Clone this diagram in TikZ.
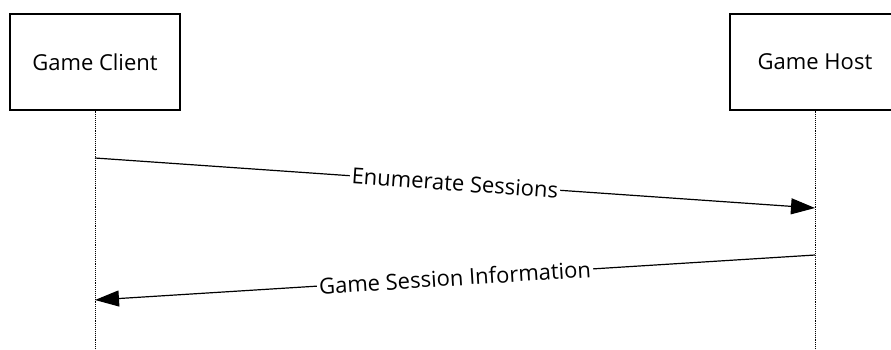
\documentclass[tikz,border=0pt]{standalone}
\usepackage{fontspec}
\setmainfont{Open Sans}
\usetikzlibrary{arrows.meta}

\tikzset{
	actor/.style={draw, line width=1.1pt, minimum width=170pt, minimum height=96pt,
		font=\fontsize{22}{26}\selectfont},
	lifeline/.style={densely dotted, line width=0.9pt},
	msg/.style={line width=1.2pt, -{Triangle[length=24pt,width=16pt]}},
	msglabel/.style={fill=white, sloped, inner sep=2pt, font=\fontsize{22}{26}\selectfont}
}

\begin{document}
\begin{tikzpicture}[x=1pt,y=-1pt]
		\useasboundingbox (0,0) rectangle (891,349);
		\clip (0,0) rectangle (891,349);
		\node[actor] (client) at (95,62) {Game Client};
		\node[actor] (host) at (815,62) {Game Host};
		\coordinate (clientend) at (95,349);
		\coordinate (hostend) at (815,349);
		\draw[lifeline] (client.south) -- (clientend);
		\draw[lifeline] (host.south) -- (hostend);
		% messages
		\coordinate (enumfrom) at (95,158);
		\coordinate (enumto) at (815,208);
		\coordinate (infofrom) at (815,255);
		\coordinate (infoto) at (95,300);
		\draw[msg] (enumfrom) -- node[msglabel]{Enumerate Sessions} (enumto);
		\draw[msg] (infofrom) -- node[msglabel]{Game Session Information} (infoto);
	\end{tikzpicture}
\end{document}
